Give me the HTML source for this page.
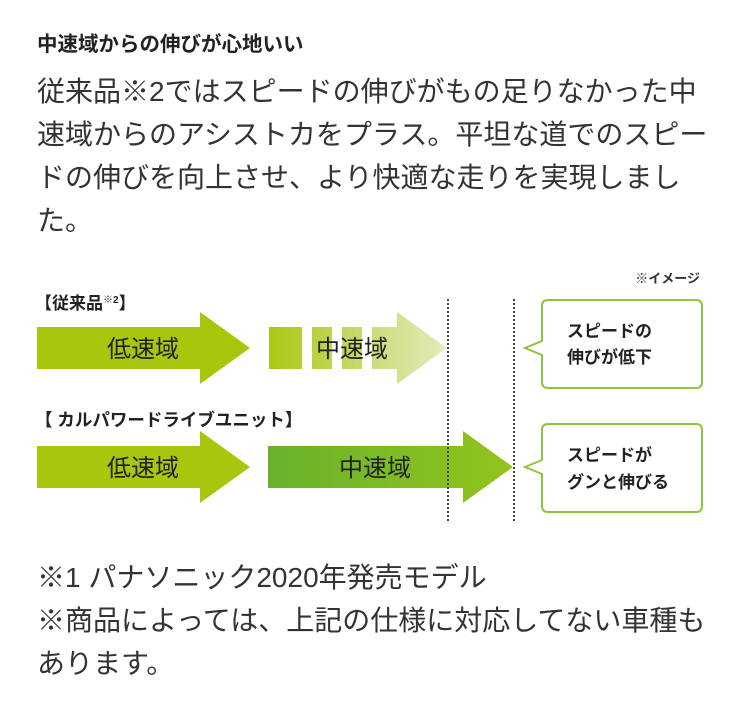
<!DOCTYPE html>
<html><head><meta charset="utf-8"><style>
html,body{margin:0;padding:0;background:#fff;width:740px;height:702px;overflow:hidden}
.t{position:absolute;left:37px;white-space:nowrap;font-family:"Liberation Sans","Noto Sans CJK JP",sans-serif;color:#333;font-size:28px;line-height:43px}
</style></head><body>
<div class="t" style="top:30px;font-size:20.5px;line-height:30px;font-weight:bold;color:#222">中速域からの伸びが心地いい</div>
<div class="t" style="top:70px">従来品※2ではスピードの伸びがもの足りなかった中<br>速域からのアシストカをプラス。平坦な道でのスピー<br>ドの伸びを向上させ、より快適な走りを実現しまし<br>た。</div>
<svg style="position:absolute;left:0;top:0" width="740" height="702" font-family="Liberation Sans, Noto Sans CJK JP, sans-serif">
<defs>
<linearGradient id="g1" x1="269" x2="447" gradientUnits="userSpaceOnUse"><stop offset="0" stop-color="#a9c814"/><stop offset="1" stop-color="#e2ecbf"/></linearGradient>
<linearGradient id="g2" x1="268" x2="513" gradientUnits="userSpaceOnUse"><stop offset="0" stop-color="#68b22c"/><stop offset="1" stop-color="#93c41c"/></linearGradient>
</defs>
<text x="700" y="283" font-size="13" font-weight="bold" fill="#333" text-anchor="end">※イメージ</text>
<text x="35" y="309" font-size="17" font-weight="bold" fill="#222">【従来品<tspan font-size="10" dy="-6">※2</tspan><tspan dy="6">】</tspan></text>
<text x="35" y="426" font-size="17.5" font-weight="bold" fill="#222">【 カルパワードライブユニット】</text>
<polygon points="37,327 200,327 200,312 250,348 200,384 200,369 37,369" fill="#a8c70c"/>
<text x="143" y="357" font-size="24" fill="#222" text-anchor="middle">低速域</text>
<rect x="269" y="327" width="33" height="42" fill="url(#g1)"/>
<rect x="312" y="327" width="20" height="42" fill="url(#g1)"/>
<rect x="342" y="327" width="20" height="42" fill="url(#g1)"/>
<polygon points="372,327 397,327 397,312 447,348 397,384 397,369 372,369" fill="url(#g1)"/>
<text x="352" y="357" font-size="24" fill="#222" text-anchor="middle">中速域</text>
<polygon points="37,446 200,446 200,431 250,467 200,503 200,488 37,488" fill="#a8c70c"/>
<text x="143" y="476" font-size="24" fill="#222" text-anchor="middle">低速域</text>
<polygon points="268,446 463,446 463,431 513,467 463,503 463,488 268,488" fill="url(#g2)"/>
<text x="375" y="476" font-size="24" fill="#222" text-anchor="middle">中速域</text>
<line x1="448" y1="299" x2="448" y2="523" stroke="#444" stroke-width="2" stroke-dasharray="2,2"/>
<line x1="514" y1="299" x2="514" y2="523" stroke="#444" stroke-width="2" stroke-dasharray="2,2"/>
<path d="M548,300 H696 Q702,300 702,306 V382 Q702,388 696,388 H548 Q542,388 542,382 V355 L525,348 L542,341 V306 Q542,300 548,300 Z" fill="#fff" stroke="#8cc63f" stroke-width="2"/>
<text x="567" y="337" font-size="17" font-weight="bold" fill="#222">スピードの</text>
<text x="567" y="363" font-size="17" font-weight="bold" fill="#222">伸びが低下</text>
<path d="M548,424 H696 Q702,424 702,430 V506 Q702,512 696,512 H548 Q542,512 542,506 V474 L525,467 L542,460 V430 Q542,424 548,424 Z" fill="#fff" stroke="#8cc63f" stroke-width="2"/>
<text x="567" y="461" font-size="17" font-weight="bold" fill="#222">スピードが</text>
<text x="567" y="488" font-size="17" font-weight="bold" fill="#222">グンと伸びる</text>
</svg>
<div class="t" style="top:556px">※1 パナソニック2020年発売モデル<br>※商品によっては、上記の仕様に対応してない車種も<br>あります。</div>
</body></html>
